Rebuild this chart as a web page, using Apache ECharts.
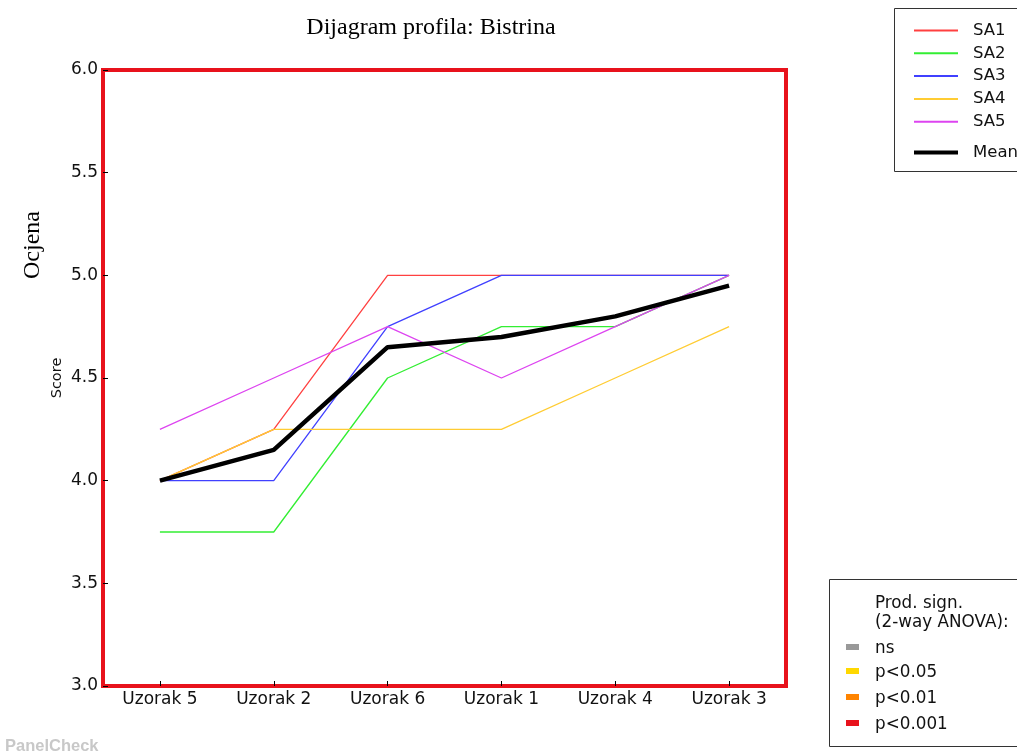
<!DOCTYPE html>
<html>
<head>
<meta charset="utf-8">
<script src="https://cdn.jsdelivr.net/npm/echarts@6/dist/echarts.min.js"></script>
<style>
html, body { margin: 0; padding: 0; background: #fff; }
#chart { width: 1017px; height: 756px; }
</style>
</head>
<body>
<div id="chart"></div>
<script>
var samples = ['Uzorak 5', 'Uzorak 2', 'Uzorak 6', 'Uzorak 1', 'Uzorak 4', 'Uzorak 3'];
var assessors = ['SA1', 'SA2', 'SA3', 'SA4', 'SA5'];
var sa1 = [4.0, 4.25, 5.0, 5.0, 5.0, 5.0];
var sa2 = [3.75, 3.75, 4.5, 4.75, 4.75, 5.0];
var sa3 = [4.0, 4.0, 4.75, 5.0, 5.0, 5.0];
var sa4 = [4.0, 4.25, 4.25, 4.25, 4.5, 4.75];
var sa5 = [4.25, 4.5, 4.75, 4.5, 4.75, 5.0];
var mean = [4.0, 4.15, 4.65, 4.7, 4.8, 4.95];
var colors = ['#ff4040', '#33ee33', '#4040ff', '#ffcc33', '#dd44f0'];
var sigLabels = ['ns', 'p<0.05', 'p<0.01', 'p<0.001'];
var sigColors = ['#999999', '#ffd800', '#ff8400', '#e8121c'];

var myChart = echarts.init(document.getElementById('chart'));
var values = [sa1, sa2, sa3, sa4, sa5];

var series = [];
for (var i = 0; i < assessors.length; i++) {
    series.push({
        name: assessors[i],
        type: 'line',
        data: values[i],
        symbol: 'none',
        color: colors[i],
        lineStyle: { width: 1.3, color: colors[i] },
        z: 2
    });
}
series.push({
    name: 'Mean',
    type: 'line',
    data: mean,
    symbol: 'none',
    color: '#000',
    lineStyle: { width: 4.5, color: '#000' },
    z: 3
});

// boxes, extra labels and the significance legend
var graphics = [
    { type: 'rect', shape: { x: 894.5, y: 8.5, width: 140, height: 163 },
      style: { fill: '#fff', stroke: '#333', lineWidth: 1 }, z: 0 },
    { type: 'rect', shape: { x: 829.5, y: 579.5, width: 200, height: 167 },
      style: { fill: '#fff', stroke: '#333', lineWidth: 1 }, z: 0 },
    { type: 'text', x: 875, y: 613, z: 10,
      style: { text: 'Prod. sign.\n(2-way ANOVA):', font: '16.8px "DejaVu Sans"', fill: '#111', lineHeight: 19, verticalAlign: 'middle' } },
    { type: 'text', x: 33, y: 245, rotation: Math.PI / 2, z: 10,
      style: { text: 'Ocjena', font: '24px "Liberation Serif"', fill: '#000', align: 'center', verticalAlign: 'middle' } },
    { type: 'text', x: 5, y: 746, z: 10,
      style: { text: 'PanelCheck', font: 'bold 16.5px "Liberation Sans"', fill: '#c8c8c8', verticalAlign: 'middle' } }
];
var sigY = [647, 671, 697, 723];
for (var k = 0; k < sigLabels.length; k++) {
    graphics.push({ type: 'rect', z: 10, shape: { x: 846, y: sigY[k] - 3, width: 13, height: 6 },
        style: { fill: sigColors[k] } });
    graphics.push({ type: 'text', z: 10, x: 875, y: sigY[k] + 1.5,
        style: { text: sigLabels[k], font: '16.8px "DejaVu Sans"', fill: '#111', verticalAlign: 'middle' } });
}

var option = {
    animation: false,
    backgroundColor: '#fff',
    title: {
        text: 'Dijagram profila: Bistrina',
        left: 426,
        top: 11,
        textAlign: 'center',
        textStyle: { fontFamily: 'Liberation Serif', fontSize: 24, fontWeight: 'normal', color: '#000' }
    },
    legend: [
        {
            data: assessors,
            orient: 'vertical',
            left: 909,
            top: 17,
            icon: 'rect',
            itemWidth: 44,
            itemHeight: 2,
            itemGap: 5.8,
            textStyle: { fontFamily: 'DejaVu Sans', fontSize: 16.5, color: '#111', padding: [0, 0, 0, 10] }
        },
        {
            data: ['Mean'],
            orient: 'vertical',
            left: 909,
            top: 139,
            icon: 'rect',
            itemWidth: 44,
            itemHeight: 4,
            textStyle: { fontFamily: 'DejaVu Sans', fontSize: 16.5, color: '#111', padding: [0, 0, 0, 10] }
        }
    ],
    grid: {
        left: 103,
        right: 231,
        top: 70,
        bottom: 70,
        show: true,
        borderColor: '#e8121c',
        borderWidth: 4,
        backgroundColor: '#fff',
        containLabel: false
    },
    xAxis: {
        type: 'category',
        data: samples,
        boundaryGap: true,
        axisLine: { show: false },
        axisTick: { show: true, inside: true, alignWithLabel: true, length: 5, lineStyle: { color: '#000' } },
        axisLabel: { fontFamily: 'DejaVu Sans', fontSize: 17, color: '#111', margin: 5 },
        splitLine: { show: false }
    },
    yAxis: {
        type: 'value',
        min: 3.0,
        max: 6.0,
        interval: 0.5,
        name: 'Score',
        nameLocation: 'middle',
        nameGap: 38,
        nameMoveOverlap: false,
        nameTextStyle: { fontFamily: 'DejaVu Sans', fontSize: 14.5, color: '#111' },
        axisLine: { show: false },
        axisTick: { show: true, inside: true, length: 5, lineStyle: { color: '#000' } },
        axisLabel: {
            fontFamily: 'DejaVu Sans', fontSize: 17, color: '#111', margin: 5,
            formatter: function (v) { return v.toFixed(1); }
        },
        splitLine: { show: false }
    },
    graphic: graphics,
    series: series
};

myChart.setOption(option);
</script>
</body>
</html>
